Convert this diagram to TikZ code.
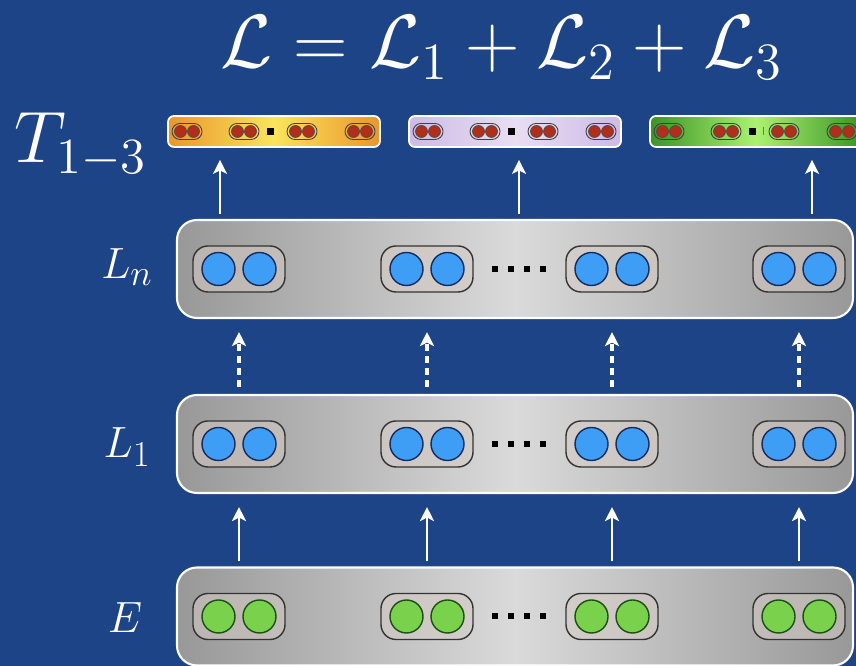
\documentclass[tikz,border=0pt]{standalone}
\usepackage{amsmath,amssymb}
\usepackage{tikz}
\usetikzlibrary{arrows.meta,positioning,calc}

\definecolor{bgblue}{RGB}{30,68,136}
\definecolor{layeredge}{RGB}{152,152,152}
\definecolor{layermid}{RGB}{218,218,218}
\definecolor{cellfill}{RGB}{214,204,198}
\definecolor{unitblue}{RGB}{62,158,246}
\definecolor{unitblueline}{RGB}{22,42,92}
\definecolor{unitgreen}{RGB}{122,210,76}
\definecolor{unitgreenline}{RGB}{28,78,22}
\definecolor{unitred}{RGB}{176,46,26}
\definecolor{toredge}{RGB}{234,150,44}
\definecolor{tormid}{RGB}{251,228,92}
\definecolor{tpuedge}{RGB}{206,186,230}
\definecolor{tpumid}{RGB}{232,222,242}
\definecolor{tgredge}{RGB}{58,148,38}
\definecolor{tgrmid}{RGB}{172,242,112}

\begin{document}
\begin{tikzpicture}[
    layerbox/.style={draw=white, line width=1.2pt, rounded corners=0.4cm,
      minimum width=13.52cm, minimum height=1.96cm,
      left color=layeredge, right color=layeredge, middle color=layermid},
    cellbox/.style={draw=black!80, line width=0.8pt, rounded corners=0.3cm,
      minimum width=1.84cm, minimum height=0.92cm, fill=cellfill, fill opacity=0.55},
    unit/.style={circle, minimum size=0.66cm, inner sep=0pt, line width=0.8pt},
    tbox/.style={draw=white, line width=1pt, rounded corners=0.12cm,
      minimum width=4.24cm, minimum height=0.62cm,
      left color=#1edge, right color=#1edge, middle color=#1mid},
    minicell/.style={draw=black!75, line width=0.5pt, rounded corners=0.16cm,
      minimum width=0.6cm, minimum height=0.32cm, inner sep=0pt},
    miniunit/.style={circle, fill=unitred, draw=black!70, line width=0.4pt,
      minimum size=0.24cm, inner sep=0pt},
    dotsq/.style={fill=black, minimum size=0.12cm, inner sep=0pt},
    lbl/.style={text=white, font=\fontsize{24.88}{28}\selectfont, anchor=base},
    uparrow/.style={draw=white, line width=1.1pt, -{Stealth[length=8pt, width=8pt, inset=2pt]}},
    dasharrow/.style={uparrow, line width=2pt, dash pattern=on 4pt off 2.8pt}
  ]
    % Background
    \fill[bgblue] (0,0) rectangle (17.12,13.32);
    \useasboundingbox (0,0) rectangle (17.12,13.32);

    % Loss
    \node[text=white, font=\fontsize{20}{24}\selectfont, scale=2.07, inner sep=0pt, anchor=base] (loss) at (10.04,11.96)
      {$\mathcal{L}=\mathcal{L}_1+\mathcal{L}_2+\mathcal{L}_3$};

    % Layers E, L_1, L_n
    \foreach \lay/\y/\col in {E/0.99/unitgreen, L1/4.44/unitblue, Ln/7.94/unitblue} {
      \node[layerbox] (\lay) at (10.30,\y) {};
      \foreach \x [count=\i] in {4.78,8.54,12.24,15.98} {
        \node[cellbox] (\lay-\i) at (\x,\y) {};
        \node[unit, fill=\col, draw=\col line] at ([xshift=-0.41cm]\lay-\i.center) {};
        \node[unit, fill=\col, draw=\col line] at ([xshift=0.41cm]\lay-\i.center) {};
      }
      \foreach \k in {0,...,3}
        \node[dotsq] at ({9.89+0.32*\k},\y) {};
    }

    % Layer labels
    \node[lbl] (labE) at (2.50,0.66) {$E$};
    \node[lbl] (labL1) at (2.54,4.16) {$L_1$};
    \node[lbl] (labLn) at (2.54,7.74) {$L_n$};

    % Task outputs T_1, T_2, T_3
    \foreach \x/\c [count=\i] in {5.48/tor, 10.30/tpu, 15.12/tgr} {
      \node[tbox=\c] (T\i) at (\x,10.69) {};
      \foreach \dx in {-1.74,-0.60,0.56,1.72} {
        \node[minicell] at ([xshift=\dx cm]T\i.center) {};
        \node[miniunit] at ([xshift=\dx cm-0.13cm]T\i.center) {};
        \node[miniunit] at ([xshift=\dx cm+0.13cm]T\i.center) {};
      }
      \node[dotsq, minimum size=0.14cm] at ([xshift=-0.08cm]T\i.center) {};
    }
    \draw[black!55, line width=0.5pt] ([xshift=0.15cm, yshift=-0.08cm]T3.center) -- ([xshift=0.15cm, yshift=0.08cm]T3.center);
    \node[text=white, font=\fontsize{20}{24}\selectfont, scale=2.0, inner sep=0pt, anchor=base west] (labT) at (0.28,10.06) {$T_{1-3}$};

    % Arrows E -> L_1 and L_1 -> L_n
    \foreach \i in {1,...,4} {
      \draw[uparrow, shorten <=0.1cm, shorten >=0.26cm] (E-\i |- E.north) -- (E-\i |- L1.south);
      \draw[dasharrow, shorten <=0.14cm, shorten >=0.26cm] (L1-\i |- L1.north) -- (L1-\i |- Ln.south);
    }

    % Arrows L_n -> T
    \foreach \x [count=\i] in {4.40,10.38,16.24} {
      \coordinate (up\i) at (\x,0);
      \draw[uparrow, shorten <=0.1cm, shorten >=0.24cm] (up\i |- Ln.north) -- (up\i |- T\i.south);
    }
  \end{tikzpicture}
\end{document}
